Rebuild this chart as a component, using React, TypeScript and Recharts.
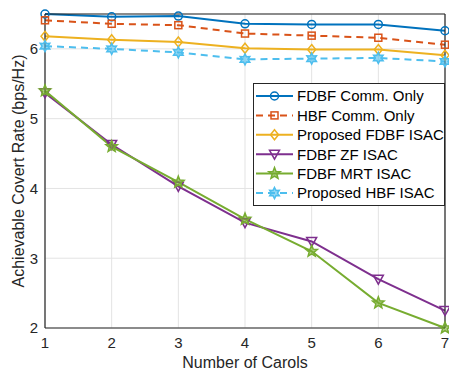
import React from 'react';
import { LineChart, Line, XAxis, YAxis, CartesianGrid } from 'recharts';

const CAROLS = [1, 2, 3, 4, 5, 6, 7];
const X_TICKS = [1, 2, 3, 4, 5, 6, 7];
const Y_TICKS = [2, 3, 4, 5, 6];

const FDBF_COMM = [6.5, 6.46, 6.47, 6.36, 6.35, 6.35, 6.26];
const HBF_COMM = [6.41, 6.36, 6.34, 6.22, 6.19, 6.16, 6.06];
const FDBF_ISAC = [6.18, 6.13, 6.1, 6.01, 5.99, 5.99, 5.91];
const FDBF_ZF = [5.37, 4.63, 4.03, 3.51, 3.24, 2.7, 2.25];
const FDBF_MRT = [5.4, 4.6, 4.09, 3.56, 3.1, 2.36, 2.0];
const HBF_ISAC = [6.04, 6.0, 5.95, 5.85, 5.86, 5.87, 5.82];

type MarkerKind = 'circle' | 'square' | 'diamond' | 'triangle' | 'pentagram' | 'hexagram';

interface Series {
  key: string;
  name: string;
  values: number[];
  color: string;
  marker: MarkerKind;
  dashed?: boolean;
}

const SERIES: Series[] = [
  { key: 'fdbfComm', name: 'FDBF Comm. Only', values: FDBF_COMM, color: '#0072BD', marker: 'circle' },
  { key: 'hbfComm', name: 'HBF Comm. Only', values: HBF_COMM, color: '#D95319', marker: 'square', dashed: true },
  { key: 'fdbfIsac', name: 'Proposed FDBF ISAC', values: FDBF_ISAC, color: '#EDB120', marker: 'diamond' },
  { key: 'fdbfZf', name: 'FDBF ZF ISAC', values: FDBF_ZF, color: '#7E2F8E', marker: 'triangle' },
  { key: 'fdbfMrt', name: 'FDBF MRT ISAC', values: FDBF_MRT, color: '#77AC30', marker: 'pentagram' },
  { key: 'hbfIsac', name: 'Proposed HBF ISAC', values: HBF_ISAC, color: '#4DBEEE', marker: 'hexagram', dashed: true },
];

const data = CAROLS.map((c, i) => {
  const row: Record<string, number> = { carols: c };
  SERIES.forEach((s) => {
    row[s.key] = s.values[i];
  });
  return row;
});

const FONT = '"Liberation Sans", Arial, Helvetica, sans-serif';
const AXIS_COLOR = '#262626';

function starPoints(cx: number, cy: number, n: number, outer: number, inner: number) {
  const pts: string[] = [];
  for (let i = 0; i < n * 2; i++) {
    const a = -Math.PI / 2 + (i * Math.PI) / n;
    const r = i % 2 === 0 ? outer : inner;
    pts.push(`${cx + r * Math.cos(a)},${cy + r * Math.sin(a)}`);
  }
  return pts.join(' ');
}

function Marker({ kind, cx, cy, color }: { kind: MarkerKind; cx: number; cy: number; color: string }) {
  const common = { stroke: color, strokeWidth: 1.5, fill: 'none' };
  switch (kind) {
    case 'circle':
      return <circle cx={cx} cy={cy} r={4} {...common} />;
    case 'square':
      return <rect x={cx - 3.5} y={cy - 3.5} width={7} height={7} {...common} />;
    case 'diamond':
      return <polygon points={`${cx},${cy - 5} ${cx + 4},${cy} ${cx},${cy + 5} ${cx - 4},${cy}`} {...common} />;
    case 'triangle':
      return <polygon points={`${cx - 5},${cy - 4} ${cx + 5},${cy - 4} ${cx},${cy + 5}`} {...common} />;
    case 'pentagram':
      return <polygon points={starPoints(cx, cy, 5, 6, 2.6)} {...common} fill={color} fillOpacity={0.6} />;
    case 'hexagram':
      return <polygon points={starPoints(cx, cy, 6, 5.5, 3)} {...common} fill={color} fillOpacity={0.6} />;
    default:
      return null;
  }
}

// legend drawn as an overlay so the chart keeps its full plot area
function LegendBox() {
  const rowH = 19.4;
  return (
    <svg
      width={192}
      height={123}
      style={{ position: 'absolute', left: 253, top: 83, display: 'block', fontFamily: FONT }}
    >
      <rect x={0.5} y={0.5} width={191} height={122} fill="#fff" stroke={AXIS_COLOR} strokeWidth={1} />
      {SERIES.map((s, i) => {
        const y = 13 + i * rowH;
        return (
          <g key={s.key}>
            <line
              x1={3}
              x2={40}
              y1={y}
              y2={y}
              stroke={s.color}
              strokeWidth={2}
              strokeDasharray={s.dashed ? '7 5' : undefined}
            />
            <Marker kind={s.marker} cx={21.5} cy={y} color={s.color} />
            <text x={44} y={y} dy="0.36em" fontSize={15} fill="#000">
              {s.name}
            </text>
          </g>
        );
      })}
    </svg>
  );
}

export default function App() {
  return (
    <div style={{ position: 'absolute', left: 0, top: 0, width: 449, height: 371, background: '#fff' }}>
      <LineChart
        width={449}
        height={371}
        data={data}
        margin={{ top: 14, right: 4, bottom: 0, left: 0 }}
        style={{ fontFamily: FONT }}
      >
        <CartesianGrid stroke="#e3e3e3" strokeWidth={1} />
        <XAxis
          xAxisId={0}
          dataKey="carols"
          type="number"
          domain={[1, 7]}
          ticks={X_TICKS}
          height={43}
          axisLine={{ stroke: AXIS_COLOR, strokeWidth: 1.2 }}
          tickLine={false}
          tickSize={0}
          tickMargin={9}
          tick={{ fill: AXIS_COLOR, fontSize: 15 }}
          label={{ value: 'Number of Carols', position: 'center', dy: 13, fill: AXIS_COLOR, fontSize: 16 }}
        />
        <XAxis
          xAxisId="bottomTicks"
          dataKey="carols"
          type="number"
          domain={[1, 7]}
          ticks={X_TICKS}
          mirror
          axisLine={false}
          tick={false}
          tickSize={4}
          tickLine={{ stroke: AXIS_COLOR }}
        />
        <XAxis
          xAxisId="top"
          orientation="top"
          dataKey="carols"
          type="number"
          domain={[1, 7]}
          ticks={X_TICKS}
          mirror
          axisLine={{ stroke: AXIS_COLOR, strokeWidth: 1.2 }}
          tick={false}
          tickSize={4}
          tickLine={{ stroke: AXIS_COLOR }}
        />
        <YAxis
          yAxisId={0}
          type="number"
          domain={[2, 6.5]}
          ticks={Y_TICKS}
          width={45}
          axisLine={{ stroke: AXIS_COLOR, strokeWidth: 1.2 }}
          tickLine={false}
          tickSize={0}
          tickMargin={7}
          tick={{ fill: AXIS_COLOR, fontSize: 15 }}
          label={{
            value: 'Achievable Covert Rate (bps/Hz)',
            angle: -90,
            position: 'center',
            dx: -4,
            fill: AXIS_COLOR,
            fontSize: 16,
          }}
        />
        <YAxis
          yAxisId="leftTicks"
          type="number"
          domain={[2, 6.5]}
          ticks={Y_TICKS}
          mirror
          axisLine={false}
          tick={false}
          tickSize={4}
          tickLine={{ stroke: AXIS_COLOR }}
        />
        <YAxis
          yAxisId="right"
          orientation="right"
          type="number"
          domain={[2, 6.5]}
          ticks={Y_TICKS}
          mirror
          axisLine={{ stroke: AXIS_COLOR, strokeWidth: 1.2 }}
          tick={false}
          tickSize={4}
          tickLine={{ stroke: AXIS_COLOR }}
        />
        {SERIES.map((s) => (
          <Line
            key={s.key}
            xAxisId={0}
            yAxisId={0}
            dataKey={s.key}
            name={s.name}
            stroke={s.color}
            strokeWidth={2}
            strokeDasharray={s.dashed ? '7 5' : undefined}
            isAnimationActive={false}
            dot={(p: any) => <Marker key={`${s.key}-${p.index}`} kind={s.marker} cx={p.cx} cy={p.cy} color={s.color} />}
            activeDot={false}
          />
        ))}
      </LineChart>
      <LegendBox />
    </div>
  );
}
